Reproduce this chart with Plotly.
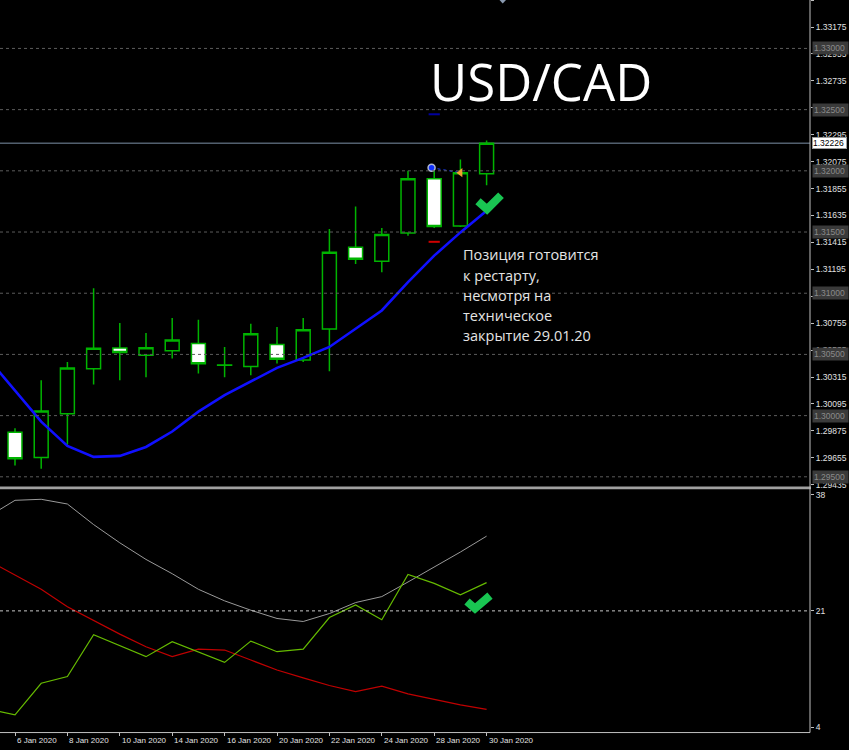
import plotly.graph_objects as go

# ---------------- data ----------------
candle_dates = ["6 Jan", "7 Jan", "8 Jan", "9 Jan", "10 Jan", "13 Jan", "14 Jan", "15 Jan",
                "16 Jan", "17 Jan", "20 Jan", "21 Jan", "22 Jan", "23 Jan", "24 Jan",
                "27 Jan", "28 Jan", "29 Jan", "30 Jan"]
opens = [1.29864, 1.29658, 1.30016, 1.30382, 1.30553, 1.30493, 1.30529, 1.30590, 1.30411,
         1.30401, 1.30582, 1.30455, 1.30708, 1.31375, 1.31261, 1.31493, 1.31936, 1.31550, 1.31977]
highs = [1.29896, 1.30289, 1.30439, 1.31041, 1.30756, 1.30675, 1.30797, 1.30783, 1.30561,
         1.30751, 1.30724, 1.30797, 1.31524, 1.31708, 1.31532, 1.32000, 1.32028, 1.32093, 1.32248]
lows = [1.29593, 1.29565, 1.29761, 1.30254, 1.30289, 1.30314, 1.30466, 1.30344, 1.30314,
        1.30330, 1.30425, 1.30439, 1.30363, 1.31239, 1.31171, 1.31469, 1.31532, 1.31542, 1.31882]
closes = [1.29647, 1.30037, 1.30390, 1.30550, 1.30515, 1.30555, 1.30618, 1.30423, 1.30413,
          1.30669, 1.30460, 1.30702, 1.31334, 1.31277, 1.31480, 1.31936, 1.31546, 1.31985, 1.32226]

# moving average (first value belongs to 3 Jan, just left of the view)
ma_values = [1.30458, 1.30200, 1.29951, 1.29752, 1.29663, 1.29671, 1.29744, 1.29870, 1.30032,
             1.30167, 1.30281, 1.30390, 1.30472, 1.30561, 1.30710, 1.30859, 1.31090, 1.31307,
             1.31497, 1.31673]

# ADX panel (first value belongs to 3 Jan)
adx_main = [34.85, 37.18, 37.33, 36.64, 33.63, 30.96, 28.53, 26.44, 24.16, 22.47, 21.10,
            19.89, 19.45, 20.61, 22.22, 23.09, 25.23, 27.42, 29.61, 31.94]
plus_di = [6.63, 5.79, 10.41, 11.39, 17.51, 15.91, 14.30, 16.49, 14.93, 13.47, 16.58,
           15.03, 15.41, 20.03, 21.88, 19.70, 26.34, 25.03, 23.34, 25.13]
minus_di = [28.34, 26.25, 24.16, 21.59, 19.55, 17.60, 15.76, 14.30, 15.41, 15.27, 13.81,
            12.35, 11.19, 10.08, 9.20, 9.98, 8.85, 8.04, 7.25, 6.58]

date_labels = ["6 Jan 2020", "8 Jan 2020", "10 Jan 2020", "14 Jan 2020", "16 Jan 2020",
               "20 Jan 2020", "22 Jan 2020", "24 Jan 2020", "28 Jan 2020", "30 Jan 2020"]
date_label_idx = [0, 2, 4, 6, 8, 10, 12, 14, 16, 18]

price_ticks = [1.33395, 1.33175, 1.32955, 1.32735, 1.32515, 1.32295, 1.32075, 1.31855,
               1.31635, 1.31415, 1.31195, 1.30975, 1.30755, 1.30535, 1.30315, 1.30095,
               1.29875, 1.29655, 1.29435]
hidden_tick_labels = [1.32515]   # fully covered by the 1.32500 level box in the reference
level_lines = [1.33000, 1.32500, 1.32000, 1.31500, 1.31000, 1.30500, 1.30000, 1.29500]
bid_price = 1.32226
adx_ticks = [38, 21, 4]
adx_level = 21

trade_open_x, trade_open_price = 15.9, 1.32025
trade_close_x, trade_close_price = 17.0, 1.31985
stop_loss, take_profit, sltp_x = 1.31420, 1.32462, 16.0

title_text = "USD/CAD"
note_lines = ["Позиция готовится", "к рестарту,", "несмотря на", "техническое",
              "закрытие 29.01.20"]

# ---------------- layout helpers ----------------
W, H = 849, 750
PLOT_R = 810
def px(x): return x / W
def py(y): return 1 - y / H

idx = list(range(len(candle_dates)))
idx_ext = list(range(-1, len(candle_dates)))
XR = [-15 / 26.2, (PLOT_R - 15) / 26.2]
CANDLE_GREEN = "#00b400"

fig = go.Figure()
fig.add_trace(go.Candlestick(
    x=idx, open=opens, high=highs, low=lows, close=closes,
    increasing=dict(line=dict(color=CANDLE_GREEN, width=1.5), fillcolor="black"),
    decreasing=dict(line=dict(color=CANDLE_GREEN, width=1.5), fillcolor="white"),
    whiskerwidth=0, xaxis="x", yaxis="y", hoverinfo="skip"))
fig.add_trace(go.Scatter(x=idx_ext, y=ma_values, mode="lines",
                         line=dict(color="#1010ff", width=2.6), xaxis="x", yaxis="y"))
# trade markers
fig.add_trace(go.Scatter(x=[trade_open_x, trade_close_x], y=[trade_open_price, trade_close_price],
                         mode="lines", line=dict(color="#2040ff", width=1, dash="dot"),
                         xaxis="x", yaxis="y"))
fig.add_trace(go.Scatter(x=[trade_open_x], y=[trade_open_price], mode="markers",
                         marker=dict(symbol="circle", size=7, color="#1030ff",
                                     line=dict(color="#b0b8d0", width=1.5)),
                         xaxis="x", yaxis="y"))
fig.add_trace(go.Scatter(x=[trade_close_x], y=[trade_close_price], mode="markers",
                         marker=dict(symbol="triangle-left", size=8, color="#f0a030"),
                         xaxis="x", yaxis="y"))
fig.add_trace(go.Scatter(x=[sltp_x], y=[stop_loss], mode="markers",
                         marker=dict(symbol="line-ew", size=8, line=dict(color="#d00000", width=2)),
                         xaxis="x", yaxis="y"))
fig.add_trace(go.Scatter(x=[sltp_x], y=[take_profit], mode="markers",
                         marker=dict(symbol="line-ew", size=8, line=dict(color="#0000a0", width=2)),
                         xaxis="x", yaxis="y"))
# ADX panel
fig.add_trace(go.Scatter(x=idx_ext, y=adx_main, mode="lines",
                         line=dict(color="#9a9a9a", width=1), xaxis="x2", yaxis="y2"))
fig.add_trace(go.Scatter(x=idx_ext, y=minus_di, mode="lines",
                         line=dict(color="#c00000", width=1.2), xaxis="x2", yaxis="y2"))
fig.add_trace(go.Scatter(x=idx_ext, y=plus_di, mode="lines",
                         line=dict(color="#66bb00", width=1.2), xaxis="x2", yaxis="y2"))

main_bottom_px = 488.5
price_top = 1.333947
price_per_px = 8.1357e-5
price_bottom = price_top - main_bottom_px * price_per_px

AXFONT = "Liberation Sans, DejaVu Sans, sans-serif"
tickfont = dict(family=AXFONT, size=8.5, color="#e0e0e0")
price_ticktext = ["" if v in hidden_tick_labels else f"{v:.5f}" for v in price_ticks]
fig.update_layout(
    width=W, height=H, margin=dict(l=0, r=0, t=0, b=0),
    paper_bgcolor="black", plot_bgcolor="black", showlegend=False,
    boxgap=0.24,
    xaxis=dict(domain=[0, px(PLOT_R)], range=XR, anchor="y", showgrid=False, zeroline=False,
               showticklabels=False, showline=False, rangeslider=dict(visible=False)),
    xaxis2=dict(domain=[0, px(PLOT_R)], range=XR, anchor="y2", showgrid=False, zeroline=False,
                showticklabels=False, showline=False, ticks="outside", ticklen=3,
                tickcolor="#c0c0c0", tickvals=date_label_idx),
    yaxis=dict(domain=[py(main_bottom_px), 1], range=[price_bottom, price_top + 1e-5],
               side="right", anchor="x", showgrid=False, zeroline=False,
               tickvals=price_ticks, ticktext=price_ticktext,
               ticks="outside", ticklen=3, tickcolor="#c0c0c0", tickfont=tickfont),
    yaxis2=dict(domain=[py(735), py(491)], range=[3.27, 38.83], side="right", anchor="x2",
                showgrid=False, zeroline=False, tickvals=adx_ticks,
                ticktext=[str(v) for v in adx_ticks], ticks="outside", ticklen=3,
                tickcolor="#c0c0c0", tickfont=tickfont),
)

shapes = []
for lv in level_lines:
    shapes.append(dict(type="line", xref="paper", yref="y", x0=0, x1=px(PLOT_R), y0=lv, y1=lv,
                       line=dict(color="#5c5c5c", width=1, dash="3px,3px"), layer="above"))
shapes.append(dict(type="line", xref="paper", yref="y", x0=0, x1=px(PLOT_R), y0=bid_price,
                   y1=bid_price, line=dict(color="#7d90a8", width=1), layer="below"))
shapes.append(dict(type="line", xref="paper", yref="y2", x0=0, x1=px(PLOT_R), y0=adx_level,
                   y1=adx_level, line=dict(color="#c8c8c8", width=1, dash="3px,3px"), layer="above"))
# frame lines
shapes.append(dict(type="rect", xref="paper", yref="paper", x0=0, x1=px(PLOT_R + 1),
                   y0=py(491.3), y1=py(488.5), fillcolor="#a0a0a0", line=dict(width=0)))
shapes.append(dict(type="line", xref="paper", yref="paper", x0=px(PLOT_R), x1=px(PLOT_R),
                   y0=py(735.5), y1=1, line=dict(color="#c0c0c0", width=1)))
shapes.append(dict(type="line", xref="paper", yref="paper", x0=0, x1=px(PLOT_R),
                   y0=py(735.5), y1=py(735.5), line=dict(color="#c0c0c0", width=1)))
# check marks
def check_path(pts):
    return "M " + " L ".join(f"{px(x):.5f},{py(y):.5f}" for x, y in pts)
CHECK = "#19c552"
shapes.append(dict(type="path", xref="paper", yref="paper",
                   path=check_path([(478, 202), (487, 210), (501, 196)]),
                   line=dict(color=CHECK, width=8)))
shapes.append(dict(type="path", xref="paper", yref="paper",
                   path=check_path([(467, 604), (475, 611), (490, 598)]),
                   line=dict(color=CHECK, width=8)))
# small marker at top
shapes.append(dict(type="path", xref="paper", yref="paper",
                   path=f"M {px(499.5)},{py(0)} L {px(506)},{py(0)} L {px(502.7)},{py(3.5)} Z",
                   fillcolor="#8a9ab0", line=dict(width=0)))
fig.update_layout(shapes=shapes)

ann = []
ann.append(dict(text=title_text, xref="paper", yref="paper", x=px(541), y=py(81),
                xanchor="center", yanchor="middle", showarrow=False,
                font=dict(family="Open Sans", size=51, color="white")))
for k, line in enumerate(note_lines):
    ann.append(dict(text=line, xref="paper", yref="paper", x=px(461), y=py(256 + 20.3 * k),
                    xanchor="left", yanchor="middle", align="left", showarrow=False,
                    font=dict(family="Open Sans", size=14.5, color="#e4e4e4")))
for lv in level_lines:
    ann.append(dict(text=f"{lv:.5f}", xref="paper", yref="y", x=px(811.5), y=lv,
                    xanchor="left", yanchor="middle", showarrow=False, bgcolor="#3a3a3a",
                    borderpad=1, width=33, align="left",
                    font=dict(family=AXFONT, size=8.5, color="#8a8a8a")))
ann.append(dict(text=f"{bid_price:.5f}", xref="paper", yref="y", x=px(811.5), y=bid_price,
                xanchor="left", yanchor="middle", showarrow=False, bgcolor="white",
                bordercolor="#9a9a9a", borderwidth=1, borderpad=0, width=33, align="left",
                font=dict(family=AXFONT, size=8.5, color="black")))
for i, lab in zip(date_label_idx, date_labels):
    ann.append(dict(text=lab, xref="x2", yref="paper", x=i, y=py(743.5), xshift=0,
                    xanchor="left", yanchor="middle", showarrow=False,
                    font=dict(family=AXFONT, size=8, color="#e0e0e0")))
fig.update_layout(annotations=ann)

fig.write_html("out.html")
